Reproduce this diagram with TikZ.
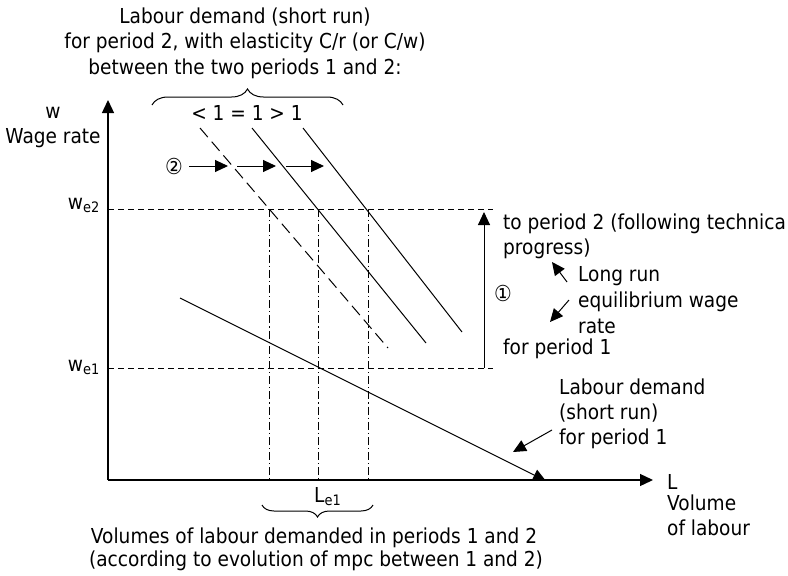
\documentclass[tikz,border=0pt]{standalone}
\usepackage{fontspec}
\setmainfont{DejaVu Sans}[FakeStretch=0.9]
\usetikzlibrary{arrows.meta,decorations.pathreplacing}
\begin{document}
\begin{tikzpicture}[x=1pt,y=-1pt,
  font=\fontsize{20.6}{24}\selectfont,
  arr/.style={-{Triangle[length=13pt,width=12pt]}},
  axisline/.style={line width=1.3pt},
  curve/.style={line width=1pt},
  guide/.style={line width=0.9pt, dash pattern=on 6pt off 4pt},
  ddot/.style={line width=0.8pt, dash pattern=on 8pt off 3pt on 1.2pt off 3pt},
  dcurve/.style={line width=1pt, dash pattern=on 12pt off 6pt},
  lbl/.style={inner sep=0pt, anchor=base west},
  ctr/.style={inner sep=0pt, anchor=base},
  rgt/.style={inner sep=0pt, anchor=base east},
  circ/.style={inner sep=0pt, font=\fontsize{22}{22}\selectfont},
  bracedeco/.style={decorate, line width=1pt}
]
\useasboundingbox (0,0) rectangle (788,576);
\fill[white] (0,0) rectangle (788,576);
\clip (0,0) rectangle (788,576);

% axes
\coordinate (O) at (108,480);
\coordinate (Ytip) at (108,100);
\coordinate (Xtip) at (653,480);
\draw[axisline, arr] (O) -- (Ytip);
\draw[axisline, arr] (O) -- (Xtip);

% equilibrium wage guides
\coordinate (we2L) at (108,209);
\coordinate (we2R) at (493,209);
\coordinate (we1L) at (108,368);
\coordinate (we1R) at (493,368);
\draw[guide] (we2L) -- (we2R);
\draw[guide] (we1L) -- (we1R);

% dash-dot verticals
\coordinate (v1t) at (269,209); \coordinate (v1b) at (269,480);
\coordinate (v2t) at (318,209); \coordinate (v2b) at (318,480);
\coordinate (v3t) at (368,209); \coordinate (v3b) at (368,480);
\draw[ddot] (v1t) -- (v1b);
\draw[ddot] (v2t) -- (v2b);
\draw[ddot] (v3t) -- (v3b);

% labour demand period 1
\coordinate (d1s) at (180,298);
\coordinate (d1e) at (546,481);
\draw[curve, arr] (d1s) -- (d1e);

% labour demand period 2
\coordinate (da) at (200,128); \coordinate (db) at (388,348);
\coordinate (ea) at (252,128); \coordinate (eb) at (426,343);
\coordinate (fa) at (303,128); \coordinate (fb) at (462,332);
\draw[dcurve] (da) -- (db);
\draw[curve] (ea) -- (eb);
\draw[curve] (fa) -- (fb);

% shift arrows (2)
\node[circ] (c2) at (174,166) {②};
\coordinate (s1a) at (189,166); \coordinate (s1b) at (228,166);
\coordinate (s2a) at (237,166); \coordinate (s2b) at (276,166);
\coordinate (s3a) at (286,166); \coordinate (s3b) at (324,166);
\draw[curve, arr] (s1a) -- (s1b);
\draw[curve, arr] (s2a) -- (s2b);
\draw[curve, arr] (s3a) -- (s3b);

% rise of wage (1)
\coordinate (r1) at (484,368);
\coordinate (r2) at (484,212);
\draw[curve, arr] (r1) -- (r2);
\node[circ] (c1) at (503,293) {①};

% top brace
\coordinate (tb1) at (152,105);
\coordinate (tb2) at (343,105);
\draw[bracedeco, decoration={brace, amplitude=16pt}] (tb1) -- (tb2);

% bottom brace
\coordinate (bb1) at (373,505);
\coordinate (bb2) at (262,505);
\draw[bracedeco, decoration={brace, amplitude=12pt}] (bb1) -- (bb2);

% titles
\node[ctr] (t1) at (245,23) {Labour demand (short run)};
\node[ctr] (t2) at (245,48) {for period 2, with elasticity C/r (or C/w)};
\node[ctr] (t3) at (245,74) {between the two periods 1 and 2:};
\node[ctr] (el) at (247,120) {< 1 = 1 > 1};

% axis labels
\node[ctr] (wl) at (53,118) {w};
\node[ctr] (wr) at (53,143) {Wage rate};
\node[lbl] (Ll) at (667,489) {L};
\node[lbl] (Lv) at (667,510) {Volume};
\node[lbl] (Lo) at (667,535) {of labour};
\node[rgt] (we2) at (100,209) {w\textsubscript{e2}};
\node[rgt] (we1) at (100,371) {w\textsubscript{e1}};
\node[lbl] (Le1) at (314,502) {L\textsubscript{e1}};

% right-hand text
\node[lbl] (rt1) at (503,229) {to period 2 (following technica};
\node[lbl] (rt2) at (503,254) {progress)};
\node[lbl] (rt3) at (578,281) {Long run};
\node[lbl] (rt4) at (578,307) {equilibrium wage};
\node[lbl] (rt5) at (578,333) {rate};
\node[lbl] (rt6) at (503,354) {for period 1};
\coordinate (la1) at (567,282); \coordinate (la2) at (552,262);
\coordinate (lb1) at (569,300); \coordinate (lb2) at (550,322);
\draw[curve, arr] (la1) -- (la2);
\draw[curve, arr] (lb1) -- (lb2);

% period 1 demand label
\node[lbl] (p1) at (559,394) {Labour demand};
\node[lbl] (p2) at (559,419) {(short run)};
\node[lbl] (p3) at (559,444) {for period 1};
\coordinate (pa1) at (552,430); \coordinate (pa2) at (513,452);
\draw[curve, arr] (pa1) -- (pa2);

% bottom text
\node[ctr] (b1) at (314,543) {Volumes of labour demanded in periods 1 and 2};
\node[ctr] (b2) at (316,566) {(according to evolution of mpc between 1 and 2)};
\end{tikzpicture}
\end{document}
